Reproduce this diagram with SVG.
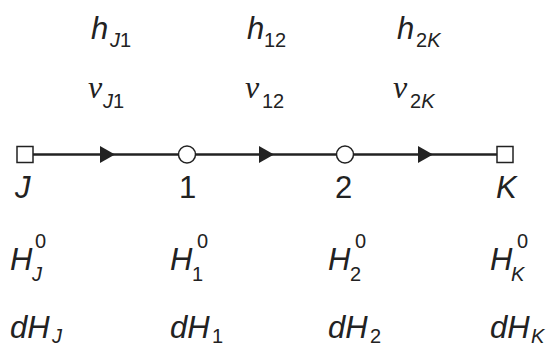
<svg xmlns="http://www.w3.org/2000/svg" width="550" height="348" viewBox="0 0 550 348">
<style>
.t{font-family:"Liberation Sans",Arial,sans-serif;font-size:31px;fill:#222}
.i{font-style:italic}
.s{font-size:20px}
.v{font-family:"Liberation Serif","Times New Roman",serif;font-style:italic;font-size:32px;fill:#222}
.ln{stroke:#222;stroke-width:2.5;fill:none}
.nd{fill:#fff;stroke:#222;stroke-width:1.5}
</style>
<defs>
<path id="arr" d="M-7,-8.5 L8,0 L-7,8.5 Z" fill="#222"/>
</defs>
<rect width="550" height="348" fill="#fff"/>
<g id="connectors">
<line class="ln" x1="33" y1="154.5" x2="497" y2="154.5"/>
<use href="#arr" x="107" y="154.5"/>
<use href="#arr" x="266" y="154.5"/>
<use href="#arr" x="425" y="154.5"/>
</g>
<g id="node-J">
<rect class="nd" x="17" y="146.5" width="16" height="16"/>
<text class="t i" x="15" y="198">J</text>
<text class="t i" x="10" y="270">H</text><text class="t s" x="35" y="248">0</text><text class="t s i" x="32" y="281">J</text>
<text class="t i" x="10" y="338">dH</text><text class="t s i" x="52" y="343">J</text>
</g>
<g id="node-1">
<circle class="nd" cx="187" cy="154.5" r="8.5"/>
<text class="t" x="179" y="198">1</text>
<text class="t i" x="170" y="270">H</text><text class="t s" x="197" y="248">0</text><text class="t s" x="192" y="281">1</text>
<text class="t i" x="170" y="338">dH</text><text class="t s" x="212" y="343">1</text>
</g>
<g id="node-2">
<circle class="nd" cx="345" cy="154.5" r="8.5"/>
<text class="t" x="335" y="198">2</text>
<text class="t i" x="328" y="270">H</text><text class="t s" x="355" y="248">0</text><text class="t s" x="350" y="281">2</text>
<text class="t i" x="328" y="338">dH</text><text class="t s" x="370" y="343">2</text>
</g>
<g id="node-K">
<rect class="nd" x="497" y="146.5" width="16" height="16"/>
<text class="t i" x="496" y="198">K</text>
<text class="t i" x="490" y="270">H</text><text class="t s" x="517" y="248">0</text><text class="t s i" x="511" y="281">K</text>
<text class="t i" x="490" y="338">dH</text><text class="t s i" x="531" y="343">K</text>
</g>
<g id="edge-labels">
<text class="t i" x="91" y="39">h</text><text class="t s" x="110" y="47"><tspan class="i">J</tspan>1</text>
<text class="t i" x="247" y="39">h</text><text class="t s" x="264" y="47">12</text>
<text class="t i" x="397" y="39">h</text><text class="t s" x="416" y="47">2<tspan class="i">K</tspan></text>
<text class="v" x="88" y="98">v</text><text class="t s" x="103" y="108"><tspan class="i">J</tspan>1</text>
<text class="v" x="245" y="98">v</text><text class="t s" x="262" y="108">12</text>
<text class="v" x="393" y="98">v</text><text class="t s" x="410" y="108">2<tspan class="i">K</tspan></text>
</g>
</svg>
